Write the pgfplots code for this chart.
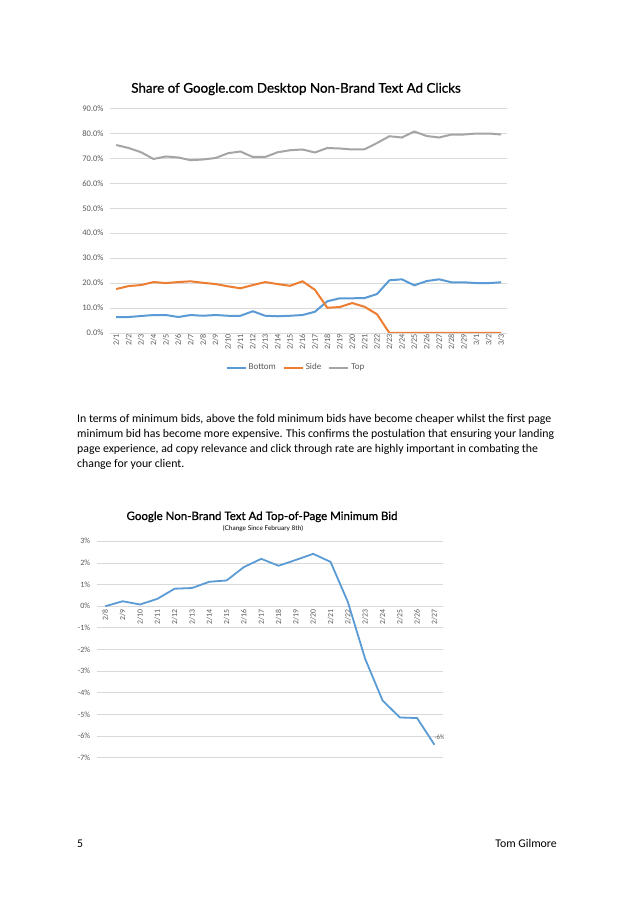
\documentclass[border=0pt]{standalone}
\usepackage{fontspec}
\setmainfont{Carlito}
\newfontfamily\titlefont[FakeBold=0.9]{Lato}
\newfontfamily\subtitlefont{Lato}
\usepackage{pgfplots}
\pgfplotsset{compat=1.18}
\definecolor{cblue}{HTML}{5B9BD5}
\definecolor{corange}{HTML}{ED7D31}
\definecolor{cgray}{HTML}{A5A5A5}
\definecolor{gridc}{HTML}{D9D9D9}
\definecolor{tickc}{HTML}{595959}

\pgfplotstableread{
x bottom side top
0 6.4 17.6 75.3
1 6.4 18.8 74.1
2 6.8 19.2 72.4
3 7.2 20.4 69.7
4 7.2 20.0 70.7
5 6.4 20.4 70.3
6 7.2 20.7 69.2
7 6.9 20.1 69.5
8 7.2 19.6 70.1
9 6.9 18.7 72.0
10 6.9 17.9 72.7
11 8.7 19.2 70.5
12 6.9 20.4 70.5
13 6.7 19.6 72.4
14 6.9 18.9 73.2
15 7.2 20.7 73.5
16 8.5 17.3 72.3
17 12.7 10.1 74.1
18 13.9 10.4 73.9
19 13.9 12.0 73.5
20 14.0 10.5 73.6
21 15.6 7.5 76.1
22 21.1 0 78.8
23 21.5 0 78.3
24 19.1 0 80.7
25 20.8 0 78.9
26 21.5 0 78.3
27 20.3 0 79.5
28 20.3 0 79.5
29 20.0 0 79.9
30 20.0 0 79.9
31 20.3 0 79.5
}\clicks

\pgfplotstableread{
x bid
0 0
1 0.23
2 0.08
3 0.34
4 0.81
5 0.84
6 1.13
7 1.19
8 1.81
9 2.19
10 1.87
11 2.14
12 2.42
13 2.05
14 0.2
15 -2.43
16 -4.35
17 -5.14
18 -5.17
19 -6.4
}\bids

\begin{document}
\begin{tikzpicture}[x=1pt,y=1pt]
\fill[white] (0,0) rectangle (638,903);

% Chart 1 title
\node[anchor=base, inner sep=0pt, font=\titlefont\fontsize{13.4}{15}\selectfont] at (296,810.3) {Share of Google.com Desktop Non-Brand Text Ad Clicks};

\begin{axis}[
  at={(110pt,570pt)}, anchor=south west, scale only axis,
  width=397.4pt, height=224.7pt,
  xmin=-0.5, xmax=31.5, ymin=0, ymax=90,
  ytick={0,10,...,90},
  yticklabels={0.0\%,10.0\%,20.0\%,30.0\%,40.0\%,50.0\%,60.0\%,70.0\%,80.0\%,90.0\%},
  xtick={0,...,31},
  xticklabels={2/1,2/2,2/3,2/4,2/5,2/6,2/7,2/8,2/9,2/10,2/11,2/12,2/13,2/14,2/15,2/16,2/17,2/18,2/19,2/20,2/21,2/22,2/23,2/24,2/25,2/26,2/27,2/28,2/29,3/1,3/2,3/3},
  ymajorgrids, grid style={draw=gridc, line width=0.8pt},
  axis line style={draw=none}, tick style={draw=none},
  x tick label style={rotate=90, anchor=east, font=\fontsize{8.2}{9}\selectfont, text=tickc, inner sep=1pt},
  y tick label style={font=\fontsize{8.5}{9}\selectfont, text=tickc, xshift=-3pt},
  legend style={at={(0.468,-0.154)}, anchor=center, draw=none, fill=none,
    legend columns=3, font=\fontsize{9}{10}\selectfont, text=tickc,
    /tikz/every even column/.append style={column sep=5pt}},
  legend image code/.code={\draw[#1, line width=2pt] (0pt,0pt) -- (19pt,0pt);},
]
\addplot[cblue, line width=2pt, mark=none] table[x=x, y=bottom] {\clicks};
\addlegendentry{Bottom}
\addplot[corange, line width=2pt, mark=none] table[x=x, y=side] {\clicks};
\addlegendentry{Side}
\addplot[cgray, line width=2pt, mark=none] table[x=x, y=top] {\clicks};
\addlegendentry{Top}
\end{axis}

% Body text
\begin{scope}[every node/.style={anchor=base west, inner sep=0pt, font=\fontsize{11.8}{14}\selectfont}]
\node at (77,480) {In terms of minimum bids, above the fold minimum bids have become cheaper whilst the first page};
\node at (77,465) {minimum bid has become more expensive. This confirms the postulation that ensuring your landing};
\node at (77,450) {page experience, ad copy relevance and click through rate are highly important in combating the};
\node at (77,435) {change for your client.};
\end{scope}

% Chart 2 titles
\node[anchor=base, inner sep=0pt, font=\titlefont\fontsize{11.5}{14}\selectfont] at (262,383) {Google Non-Brand Text Ad Top-of-Page Minimum Bid};
\node[anchor=base, inner sep=0pt, font=\subtitlefont\fontsize{6.5}{8}\selectfont] at (263,372.5) {(Change Since February 8th)};

\begin{axis}[
  at={(96.7pt,145.3pt)}, anchor=south west, scale only axis,
  width=346.4pt, height=216.4pt,
  xmin=-0.5, xmax=19.5, ymin=-7, ymax=3,
  axis x line=middle, axis y line=left,
  ytick={-7,...,3},
  yticklabels={-7\%,-6\%,-5\%,-4\%,-3\%,-2\%,-1\%,0\%,1\%,2\%,3\%},
  xtick={0,...,19},
  xticklabels={2/8,2/9,2/10,2/11,2/12,2/13,2/14,2/15,2/16,2/17,2/18,2/19,2/20,2/21,2/22,2/23,2/24,2/25,2/26,2/27},
  ymajorgrids, grid style={draw=gridc, line width=0.8pt},
  axis line style={draw=none}, tick style={draw=none},
  x tick label style={rotate=90, anchor=east, font=\fontsize{7.8}{8}\selectfont, text=tickc, inner sep=1pt},
  y tick label style={font=\fontsize{8}{9}\selectfont, text=tickc, xshift=-1pt},
]
\addplot[cblue, line width=1.8pt, mark=none] table[x=x, y=bid] {\bids};
\node[anchor=south west, inner sep=0pt, font=\fontsize{6.8}{8}\selectfont, text=tickc, yshift=5pt] at (axis cs:19,-6.4) {-6\%};
\end{axis}

% Footer
\node[anchor=base west, inner sep=0pt, font=\fontsize{11.8}{14}\selectfont] at (77,56) {5};
\node[anchor=base east, inner sep=0pt, font=\fontsize{11.8}{14}\selectfont] at (557,56) {Tom Gilmore};
\end{tikzpicture}
\end{document}
